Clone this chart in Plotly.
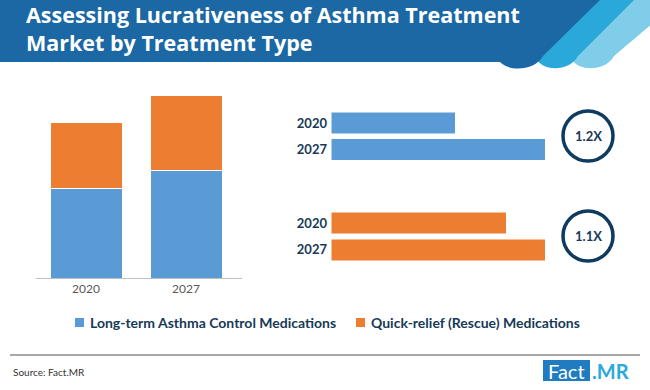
import plotly.graph_objects as go

W, H = 650, 390

# ---- data ----
years = ["2020", "2027"]
long_term = [9.0, 10.8]        # stacked (left chart)
quick_relief = [6.6, 7.5]
long_term_index = [58, 100]    # right panel bars (indexed to 2027 = 100)
quick_relief_index = [82, 100]
growth_labels = ["1.2X", "1.1X"]
series_names = ["Long-term Asthma Control Medications", "Quick-relief (Rescue) Medications"]

BLUE = "#5b9bd5"
ORANGE = "#ed7d31"
NAVY = "#163a57"
FONT = "Lato"


def px(x):
    return x / W


def py(y):
    return 1 - y / H


def P(x, y):
    return f"{px(x):.5f},{py(y):.5f}"


fig = go.Figure()

# Left stacked chart
fig.add_trace(go.Bar(x=years, y=long_term, name=series_names[0], marker=dict(color=BLUE, line=dict(color="white", width=1)),
                     width=0.72, xaxis="x", yaxis="y", showlegend=False))
fig.add_trace(go.Bar(x=years, y=quick_relief, name=series_names[1], marker=dict(color=ORANGE, line=dict(color="white", width=1)),
                     width=0.72, xaxis="x", yaxis="y", showlegend=False))

# Right panels
fig.add_trace(go.Bar(y=years, x=long_term_index, orientation="h", marker=dict(color=BLUE, line=dict(color="white", width=0.5)),
                     width=0.81, xaxis="x2", yaxis="y2", showlegend=False, name=series_names[0]))
fig.add_trace(go.Bar(y=years, x=quick_relief_index, orientation="h", marker=dict(color=ORANGE, line=dict(color="white", width=0.5)),
                     width=0.81, xaxis="x3", yaxis="y3", showlegend=False, name=series_names[1]))

right_dom = [px(331), px(545)]
fig.update_layout(
    width=W, height=H,
    margin=dict(l=0, r=0, t=0, b=0),
    paper_bgcolor="white", plot_bgcolor="rgba(0,0,0,0)",
    barmode="stack",
    font=dict(family=FONT),
    xaxis=dict(domain=[px(36), px(242)], range=[-0.5, 1.56], type="category",
               showline=True, linecolor="#bfbfbf", linewidth=1, ticks="", showgrid=False,
               tickfont=dict(size=12, color="#595959", family=FONT), fixedrange=True),
    yaxis=dict(domain=[py(278), py(80)], range=[0, 19.8], visible=False, fixedrange=True),
    xaxis2=dict(domain=right_dom, range=[0, 100], visible=False, anchor="y2"),
    yaxis2=dict(domain=[py(162.75), py(109.75)], type="category", categoryorder="array",
                categoryarray=["2027", "2020"], anchor="x2", showline=False, ticks="", showgrid=False,
                tickfont=dict(size=13, color=NAVY, family=FONT, weight="bold"), ticklabelstandoff=3),
    xaxis3=dict(domain=right_dom, range=[0, 100], visible=False, anchor="y3"),
    yaxis3=dict(domain=[py(263.25), py(209.75)], type="category", categoryorder="array",
                categoryarray=["2027", "2020"], anchor="x3", showline=False, ticks="", showgrid=False,
                tickfont=dict(size=13, color=NAVY, family=FONT, weight="bold"), ticklabelstandoff=3),
)

shapes = []
# Header stripes
light = f"M {P(600,0)} L {P(680,0)} L {P(614,56)} C {P(606,71)} {P(580,72)} {P(572,60)} Z"
mid = f"M {P(565,0)} L {P(634,0)} L {P(578,56)} C {P(570,71)} {P(545,72)} {P(537,60)} Z"
dark = f"M {P(0,0)} L {P(600,0)} L {P(543,56)} C {P(535,71)} {P(509,72)} {P(500,62)} L {P(0,62)} Z"
for path, col in [(light, "#80cde9"), (mid, "#2aa8d9"), (dark, "#1b68a5")]:
    shapes.append(dict(type="path", path=path, xref="paper", yref="paper", fillcolor=col, line=dict(width=0), layer="above"))

# Growth circles
for cy in [136, 236]:
    r = 25
    shapes.append(dict(type="circle", xref="paper", yref="paper",
                       x0=px(588 - r), x1=px(588 + r), y0=py(cy + r), y1=py(cy - r),
                       line=dict(color="#0f3b5f", width=3.5), fillcolor="white"))

# Legend squares
shapes.append(dict(type="rect", xref="paper", yref="paper", x0=px(75), x1=px(84), y0=py(327), y1=py(318),
                   fillcolor=BLUE, line=dict(width=0)))
shapes.append(dict(type="rect", xref="paper", yref="paper", x0=px(356), x1=px(365), y0=py(327), y1=py(318),
                   fillcolor=ORANGE, line=dict(width=0)))

# Footer line
shapes.append(dict(type="line", xref="paper", yref="paper", x0=px(10), x1=px(640), y0=py(355), y1=py(355),
                   line=dict(color="#8a8a8a", width=1.5)))
# Logo box
shapes.append(dict(type="rect", xref="paper", yref="paper", x0=px(543), x1=px(590), y0=py(381), y1=py(360),
                   fillcolor="#1f7cc0", line=dict(width=0)))

annotations = [
    dict(text="Assessing Lucrativeness of Asthma Treatment<br>Market by Treatment Type", x=px(24), y=py(29),
         xref="paper", yref="paper", xanchor="left", yanchor="middle", align="left", showarrow=False,
         font=dict(family="Open Sans", size=21.5, color="white", weight="bold")),
    dict(text=growth_labels[0], x=px(588), y=py(136), xref="paper", yref="paper", showarrow=False,
         xanchor="center", yanchor="middle",
         font=dict(family=FONT, size=13, color=NAVY, weight="bold")),
    dict(text=growth_labels[1], x=px(588), y=py(236), xref="paper", yref="paper", showarrow=False,
         xanchor="center", yanchor="middle",
         font=dict(family=FONT, size=13, color=NAVY, weight="bold")),
    dict(text=series_names[0], x=px(88), y=py(322.5), xref="paper", yref="paper", xanchor="left", yanchor="middle",
         showarrow=False, font=dict(family=FONT, size=14, color=NAVY, weight="bold")),
    dict(text=series_names[1], x=px(369), y=py(322.5), xref="paper", yref="paper", xanchor="left", yanchor="middle",
         showarrow=False, font=dict(family=FONT, size=14, color=NAVY, weight="bold")),
    dict(text="Source: Fact.MR", x=px(11), y=py(372), xref="paper", yref="paper", xanchor="left", yanchor="middle",
         showarrow=False, font=dict(family=FONT, size=10, color="#333333")),
    dict(text="Fact", x=px(566.5), y=py(370.5), xref="paper", yref="paper", xanchor="center", yanchor="middle",
         showarrow=False, font=dict(family=FONT, size=20, color="white")),
    dict(text=".MR", x=px(590), y=py(370.5), xref="paper", yref="paper", xanchor="left", yanchor="middle",
         showarrow=False, font=dict(family=FONT, size=20, color="#29a9e0", weight="bold")),
]

fig.update_layout(shapes=shapes, annotations=annotations)
fig.write_html("out.html", config={"displayModeBar": False},
               post_script="document.body.style.margin='0';document.body.style.overflow='hidden';")
